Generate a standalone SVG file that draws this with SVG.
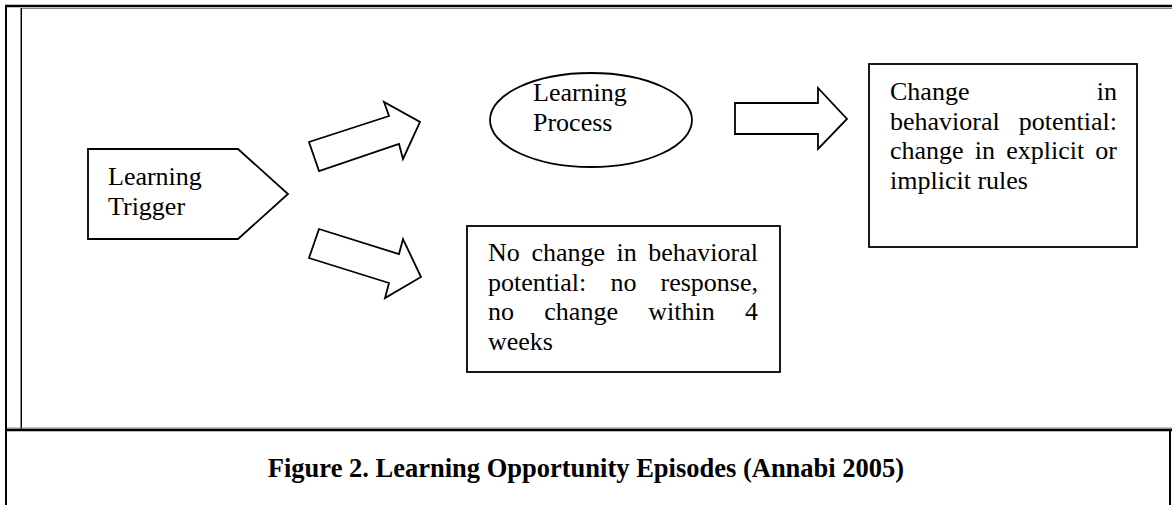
<svg xmlns="http://www.w3.org/2000/svg" width="1172" height="505" viewBox="0 0 1172 505">
  <defs>
    <style>
      .shape { fill: #fff; stroke: #000; stroke-width: 1.8; stroke-linejoin: miter; }
      .txt { font-family: "Liberation Serif", "Times New Roman", serif; font-size: 26px; fill: #000; }
      .cap { font-family: "Liberation Serif", "Times New Roman", serif; font-size: 26.5px; font-weight: bold; fill: #000; }
      .rule { stroke: #000; fill: none; }
      .shade { stroke: #888; fill: none; }
    </style>
  </defs>
  <rect width="1172" height="505" fill="#fff"/>

  <!-- table frame -->
  <g id="frame">
    <line class="rule" x1="5" y1="6" x2="1172" y2="6" stroke-width="2.5"/>
    <line class="shade" x1="22" y1="8.5" x2="1172" y2="8.5" stroke-width="1"/>
    <line class="rule" x1="6" y1="5" x2="6" y2="505" stroke-width="2"/>
    <line class="shade" x1="20.5" y1="8" x2="20.5" y2="429" stroke-width="1"/>
    <line class="rule" x1="21.5" y1="8" x2="21.5" y2="429" stroke-width="1"/>
    <line class="shade" x1="7" y1="428" x2="1172" y2="428" stroke-width="1"/>
    <line class="rule" x1="7" y1="430" x2="1172" y2="430" stroke-width="2.5"/>
    <line class="rule" x1="1170" y1="430" x2="1170" y2="505" stroke-width="2"/>
  </g>

  <!-- Learning Trigger -->
  <g id="trigger">
    <polygon class="shape" points="88,149 238,149 288,194 238,239 88,239"/>
    <text class="txt" x="108" y="185">Learning</text>
    <text class="txt" x="108" y="214.5">Trigger</text>
  </g>

  <!-- Learning Process -->
  <g id="process">
    <ellipse class="shape" cx="591" cy="120" rx="101" ry="47"/>
    <text class="txt" x="533" y="101">Learning</text>
    <text class="txt" x="533" y="130.5">Process</text>
  </g>

  <!-- Change in behavioral potential -->
  <g id="change">
    <rect class="shape" x="869" y="64" width="268" height="183"/>
    <text class="txt" y="100"><tspan x="890">Change</tspan><tspan x="1117" text-anchor="end">in</tspan></text>
    <text class="txt" y="129.5"><tspan x="890">behavioral</tspan><tspan x="1117" text-anchor="end">potential:</tspan></text>
    <text class="txt" y="159"><tspan x="890">change</tspan><tspan x="974.8">in</tspan><tspan x="1006.2">explicit</tspan><tspan x="1117" text-anchor="end">or</tspan></text>
    <text class="txt" x="890" y="188.5">implicit rules</text>
  </g>

  <!-- No change in behavioral potential -->
  <g id="nochange">
    <rect class="shape" x="467" y="226" width="313" height="146"/>
    <text class="txt" y="261"><tspan x="488">No</tspan><tspan x="531.4">change</tspan><tspan x="616.6">in</tspan><tspan x="758" text-anchor="end">behavioral</tspan></text>
    <text class="txt" y="290.5"><tspan x="488">potential:</tspan><tspan x="610.4">no</tspan><tspan x="758" text-anchor="end">response,</tspan></text>
    <text class="txt" y="320"><tspan x="488">no</tspan><tspan x="544.3">change</tspan><tspan x="648.2">within</tspan><tspan x="758" text-anchor="end">4</tspan></text>
    <text class="txt" x="488" y="349.5">weeks</text>
  </g>

  <!-- block arrows -->
  <g id="connectors">
    <polygon class="shape" points="319,171 309,142 389,116 384,102 420,122 403,159 399,144"/>
    <polygon class="shape" points="319,229 309,258 389,283 385,298 421,277 403,239 399,254"/>
    <polygon class="shape" points="735,103 818,103 818,88 847,119 818,149 818,134 735,134"/>
  </g>

  <!-- caption -->
  <text class="cap" x="586" y="477" text-anchor="middle">Figure 2. Learning Opportunity Episodes (Annabi 2005)</text>
</svg>
